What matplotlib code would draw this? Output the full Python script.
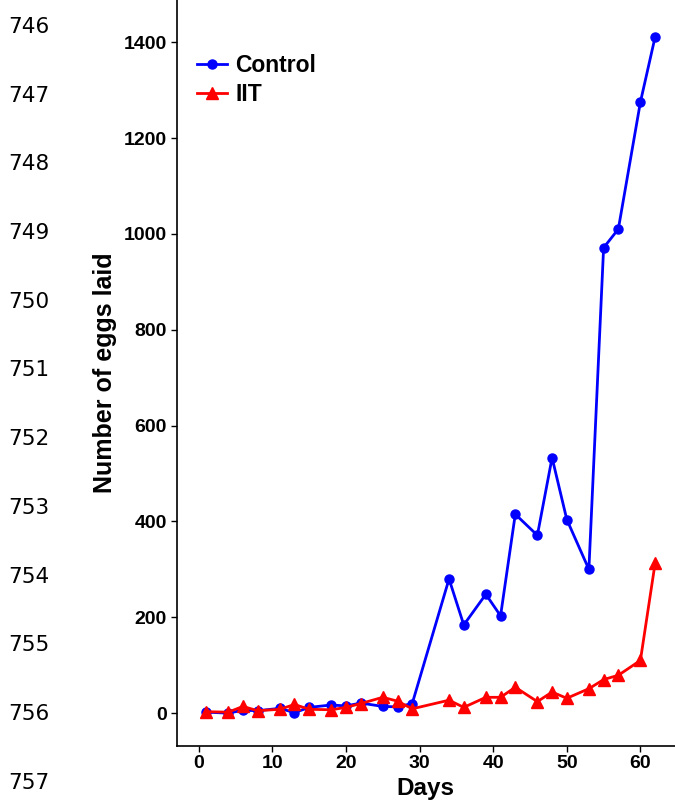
import matplotlib
matplotlib.use("Agg")
import matplotlib.pyplot as plt

days = [1, 4, 6, 8, 11, 13, 15, 18, 20, 22, 25, 27, 29, 34, 36, 39, 41, 43, 46, 48, 50, 53, 55, 57, 60, 62]
control = [2, 0, 6, 5, 10, 1, 12, 17, 15, 21, 14, 13, 20, 280, 184, 248, 203, 415, 371, 533, 404, 300, 971, 1010, 1275, 1411]
iit = [3, 2, 14, 5, 8, 18, 8, 7, 12, 20, 33, 25, 9, 27, 12, 33, 33, 54, 24, 44, 31, 51, 70, 79, 110, 313]
line_numbers = list(range(746, 758))
xticks = [0, 10, 20, 30, 40, 50, 60]
yticks = [0, 200, 400, 600, 800, 1000, 1200, 1400]

plt.rcParams['font.family'] = ['Liberation Sans', 'DejaVu Sans']

fig = plt.figure(figsize=(6.75, 8.11), dpi=100)
ax = fig.add_axes([0.2618, 0.0805, 0.7382, 0.9195])

ax.plot(days, control, color='#0000ff', lw=2.0, marker='o', ms=6.5, label='Control')
ax.plot(days, iit, color='#ff0000', lw=2.0, marker='^', ms=8.5, label='IIT')

ax.set_xlim(-3.0, 64.7)
ax.set_ylim(-68, 1488)
ax.set_xticks(xticks)
ax.set_yticks(yticks)
for s in ['top', 'right']:
    ax.spines[s].set_visible(False)
for s in ['left', 'bottom']:
    ax.spines[s].set_linewidth(1.2)
ax.tick_params(direction='out', length=4, width=1, labelsize=14, pad=3)
for lbl in ax.get_xticklabels() + ax.get_yticklabels():
    lbl.set_fontweight('bold')
ax.set_xlabel('Days', fontsize=17.5, fontweight='bold', labelpad=3)
ax.set_ylabel('Number of eggs laid', fontsize=18, fontweight='bold', labelpad=5)

leg = ax.legend(loc='upper left', bbox_to_anchor=(0.023, 0.94), frameon=False,
                prop={'size': 16.5, 'weight': 'bold'}, handlelength=1.3,
                handletextpad=0.35, labelspacing=0.25, borderaxespad=0)

for i, n in enumerate(line_numbers):
    y = 27 + i * 68.7
    fig.text(8 / 675, 1 - y / 811, str(n), fontsize=15.5, family='DejaVu Sans',
             ha='left', va='center', color='#000000')

fig.savefig('out.png', dpi=100)
